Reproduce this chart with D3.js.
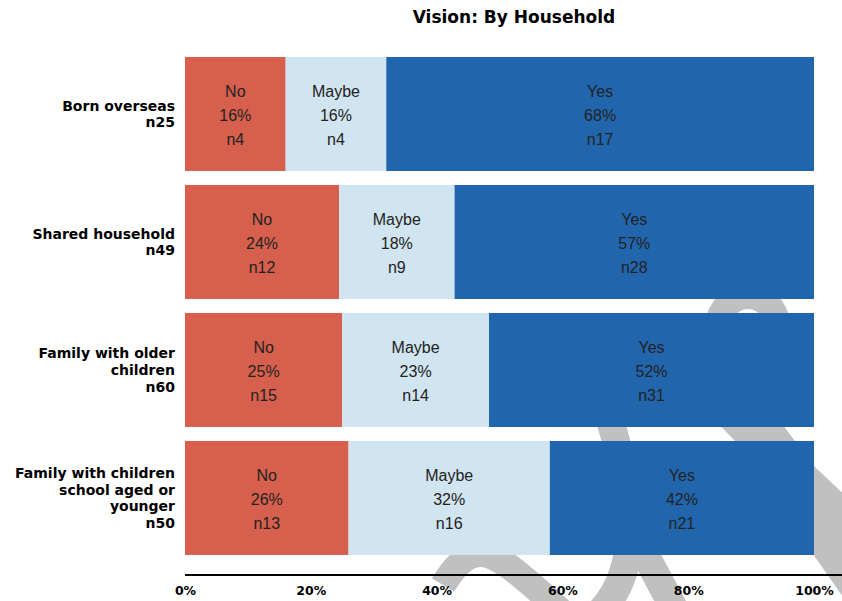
<!DOCTYPE html>
<html>
<head>
<meta charset="utf-8">
<script src="https://cdn.jsdelivr.net/npm/d3@7"></script>
<style>
  html, body { margin: 0; padding: 0; background: #ffffff; }
  svg { display: block; }
</style>
</head>
<body>
<svg id="chart" width="842" height="601"></svg>
<script>
// ---- data ----
const title = "Vision: By Household";
const categories = ["Born overseas", "Shared household", "Family with older children", "Family with children school aged or younger"];
const categoryLines = [
  ["Born overseas", "n25"],
  ["Shared household", "n49"],
  ["Family with older", "children", "n60"],
  ["Family with children", "school aged or", "younger", "n50"]
];
const totals = [25, 49, 60, 50];
const responses = ["No", "Maybe", "Yes"];
const countsNo = [4, 12, 15, 13];
const countsMaybe = [4, 9, 14, 16];
const countsYes = [17, 28, 31, 21];
const colors = ["#D6604D", "#D1E5F0", "#2166AC"];
const tickValues = [0, 20, 40, 60, 80, 100];

// ---- layout ----
const W = 842, H = 601;
const svg = d3.select("#chart");

// faint grey watermark behind the chart
const wm = svg.append("g").attr("fill", "none").attr("stroke", "#c0c0c0").attr("stroke-width", 26);
wm.append("path").attr("d", "M 443 585 C 455 565, 468 553, 482 554 C 496 555, 512 566, 562 612");
wm.append("path").attr("stroke-width", 28).attr("d", "M 610 420 C 625 470, 650 560, 600 612");
wm.append("path").attr("stroke-width", 28).attr("d", "M 632 530 L 676 612");
wm.append("path").attr("d", "M 716 345 C 714 312, 730 296, 748 296 C 766 296, 782 312, 778 345");
wm.append("path").attr("stroke", "none").attr("fill", "#c0c0c0")
  .attr("d", "M 705 410 L 735 441 L 815 557 L 850 607 L 850 500 L 815 467 L 785 428 L 767 410 Z");

const x = d3.scaleLinear().domain([0, 100]).range([185, 814]);
const y = d3.scaleBand().domain(categories).range([57, 555]).paddingInner(14 / 128).paddingOuter(0);

// build stacked rows
const rows = categories.map((c, i) => {
  const counts = [countsNo[i], countsMaybe[i], countsYes[i]];
  let acc = 0;
  return counts.map((n, j) => {
    const pct = n / totals[i] * 100;
    const seg = { cat: c, resp: responses[j], n, pct, x0: acc, x1: acc + pct, color: colors[j] };
    acc += pct;
    return seg;
  });
});

const g = svg.append("g");
const segs = g.selectAll("g.row").data(rows).join("g").attr("class", "row")
  .selectAll("g.seg").data(d => d).join("g").attr("class", "seg");

segs.append("rect")
  .attr("x", d => x(d.x0))
  .attr("y", d => y(d.cat))
  .attr("width", d => x(d.x1) - x(d.x0))
  .attr("height", y.bandwidth())
  .attr("fill", d => d.color);

segs.each(function(d) {
  const cx = (x(d.x0) + x(d.x1)) / 2;
  const cy = y(d.cat) + y.bandwidth() / 2;
  const lines = [d.resp, Math.round(d.pct) + "%", "n" + d.n];
  const t = d3.select(this).append("text")
    .attr("text-anchor", "middle")
    .attr("font-family", "'Liberation Sans', Arial, sans-serif")
    .attr("font-size", 16)
    .attr("fill", "#222");
  lines.forEach((s, k) => {
    t.append("tspan").attr("x", cx).attr("y", cy + 7 + (k - 1) * 24).text(s);
  });
});

// category labels
categories.forEach((c, i) => {
  const lines = categoryLines[i];
  const cy = y(c) + y.bandwidth() / 2;
  const lh = 16.7;
  const firstBase = cy - (lines.length - 1) * lh / 2 + 5;
  const t = svg.append("text")
    .attr("text-anchor", "end")
    .attr("font-family", "'DejaVu Sans', sans-serif")
    .attr("font-weight", "bold")
    .attr("font-size", 14)
    .attr("fill", "#000");
  lines.forEach((s, k) => {
    t.append("tspan").attr("x", 175).attr("y", firstBase + k * lh).text(s);
  });
});

// axis
const axis = d3.axisBottom(x).tickValues(tickValues).tickFormat(d => d + "%").tickSize(0).tickPadding(0);
const ax = svg.append("g").attr("transform", "translate(0,575)").call(axis);
ax.select(".domain").remove();
ax.append("line").attr("x1", x(0)).attr("x2", W).attr("y1", 0).attr("y2", 0)
  .attr("stroke", "#000").attr("stroke-width", 2);
ax.selectAll(".tick text")
  .attr("dy", null).attr("y", 19.5)
  .attr("font-family", "'DejaVu Sans', sans-serif")
  .attr("font-weight", "bold")
  .attr("font-size", 12.5)
  .attr("fill", "#000");

// title
svg.append("text")
  .attr("x", 514).attr("y", 23)
  .attr("text-anchor", "middle")
  .attr("font-family", "'DejaVu Sans', sans-serif")
  .attr("font-weight", "bold")
  .attr("font-size", 17)
  .attr("fill", "#000")
  .text(title);
</script>
</body>
</html>
